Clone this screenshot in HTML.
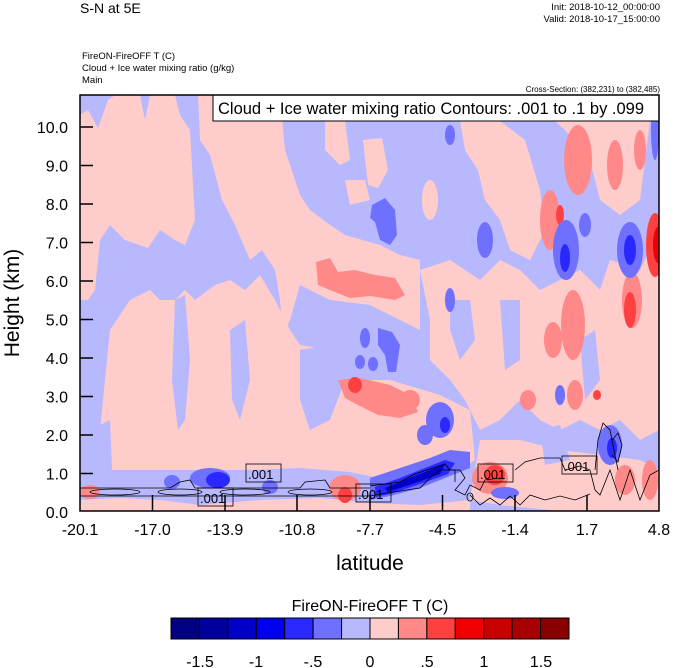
<!DOCTYPE html>
<html><head><meta charset="utf-8"><style>
body{margin:0;background:#fff;}
svg{display:block;font-family:"Liberation Sans",sans-serif;}
</style></head><body>
<svg width="674" height="668" viewBox="0 0 674 668" xmlns="http://www.w3.org/2000/svg">
<defs>
<clipPath id="pc"><rect x="80" y="95" width="579" height="416"/></clipPath>
</defs>
<text x="80" y="13" font-size="14">S-N at 5E</text>
<text x="660" y="10" font-size="9.5" text-anchor="end">Init: 2018-10-12_00:00:00</text>
<text x="660" y="22" font-size="9.5" text-anchor="end">Valid: 2018-10-17_15:00:00</text>
<text x="82" y="59" font-size="9.5">FireON-FireOFF T   (C)</text>
<text x="82" y="71" font-size="9.5">Cloud + Ice water mixing ratio   (g/kg)</text>
<text x="82" y="83" font-size="9.5">Main</text>
<text x="660" y="92" font-size="8" text-anchor="end">Cross-Section: (382,231) to (382,485)</text>

<g clip-path="url(#pc)">
<rect x="80" y="95" width="579" height="416" fill="#b8b8ff"/>
<g fill="#ffcccc">
<path d="M80 115 L88 110 L98 128 L108 100 L115 95 L140 95 L145 120 L150 95 L175 95 L180 115 L190 130 L195 220 L185 245 L175 240 L160 230 L148 248 L125 240 L110 225 L100 240 L95 290 L88 300 L80 300 Z"/>
<path d="M198 95 L215 95 L222 120 L235 95 L280 95 L285 150 L300 195 L310 210 L330 225 L345 235 L380 245 L400 255 L420 260 L420 330 L400 320 L370 305 L330 300 L300 285 L290 320 L283 335 L280 300 L275 270 L262 250 L250 260 L235 225 L222 200 L210 155 L200 140 Z"/>
<path d="M325 120 L345 120 L350 160 L340 165 L325 150 Z"/>
<path d="M363 140 L382 138 L388 170 L378 188 L368 185 Z"/>
<path d="M345 180 L365 180 L370 200 L350 205 Z"/>
<path d="M110 330 L130 300 L150 290 L160 300 L175 300 L185 290 L195 300 L215 285 L230 280 L245 290 L260 275 L275 300 L290 330 L300 345 L330 350 L340 380 L390 380 L440 395 L470 410 L475 460 L460 470 L420 475 L380 478 L350 472 L300 468 L250 470 L200 470 L150 470 L100 470 L100 430 L105 380 Z"/>
<path d="M460 121 L500 121 L525 140 L540 190 L545 230 L530 260 L510 250 L500 220 L485 200 L478 170 L465 150 Z"/>
<path d="M555 121 L650 121 L645 160 L640 200 L620 215 L600 200 L590 160 L565 130 Z"/>
<path d="M420 270 L450 260 L480 280 L500 260 L520 270 L540 290 L560 280 L580 270 L600 290 L610 260 L640 270 L659 230 L659 430 L640 440 L620 420 L600 430 L580 420 L560 430 L540 420 L520 400 L500 420 L480 430 L465 400 L450 380 L430 360 L430 320 Z"/>
<path d="M480 440 L520 440 L560 450 L600 455 L640 460 L659 470 L659 511 L560 511 L500 505 L470 500 Z"/>
<path d="M80 500 L120 498 L160 500 L200 505 L260 500 L320 498 L370 503 L420 505 L470 500 L470 511 L80 511 Z"/>
<path d="M120 420 L140 410 L150 440 L130 455 Z"/>
<ellipse cx="430" cy="200" rx="8" ry="20"/>
</g>
<g fill="#b8b8ff">
<path d="M175 300 L185 295 L190 360 L185 420 L178 430 L172 380 Z"/>
<path d="M230 330 L245 320 L250 380 L240 420 L232 400 Z"/>
<path d="M300 350 L330 345 L345 380 L330 420 L310 430 L300 400 Z"/>
<path d="M90 430 L110 420 L112 470 L90 475 Z"/>
<path d="M450 300 L470 300 L475 340 L460 360 L450 330 Z"/>
<path d="M500 300 L520 300 L520 360 L505 370 Z"/>
<path d="M580 340 L595 330 L600 380 L585 400 Z"/>
<path d="M540 430 L560 425 L570 460 L545 465 Z"/>
</g>
<g fill="#ff8888">
<path d="M316 262 L330 258 L338 272 L355 270 L375 275 L395 278 L405 295 L395 300 L370 296 L350 298 L330 290 L318 285 Z"/>
<path d="M338 380 L360 378 L390 385 L410 395 L418 412 L400 418 L378 415 L358 405 L345 398 Z"/>
<ellipse cx="550" cy="220" rx="10" ry="30"/>
<ellipse cx="578" cy="160" rx="14" ry="35"/>
<ellipse cx="615" cy="165" rx="8" ry="25"/>
<ellipse cx="640" cy="150" rx="6" ry="20"/>
<ellipse cx="553" cy="340" rx="9" ry="18"/>
<ellipse cx="573" cy="325" rx="12" ry="35"/>
<ellipse cx="632" cy="300" rx="10" ry="28"/>
<ellipse cx="575" cy="395" rx="8" ry="15"/>
<ellipse cx="410" cy="400" rx="10" ry="10"/>
<ellipse cx="90" cy="492" rx="10" ry="7"/>
<ellipse cx="345" cy="488" rx="16" ry="13"/>
<ellipse cx="490" cy="478" rx="18" ry="16"/>
<ellipse cx="625" cy="480" rx="10" ry="15"/>
<ellipse cx="650" cy="480" rx="8" ry="20"/>
<ellipse cx="528" cy="400" rx="8" ry="10"/>
</g>
<g fill="#ff4040">
<ellipse cx="655" cy="245" rx="9" ry="32"/>
<ellipse cx="630" cy="310" rx="6" ry="18"/>
<ellipse cx="355" cy="385" rx="7" ry="8"/>
<ellipse cx="495" cy="475" rx="10" ry="10"/>
<ellipse cx="345" cy="495" rx="7" ry="8"/>
<ellipse cx="560" cy="215" rx="4" ry="10"/>
<ellipse cx="597" cy="395" rx="4" ry="5"/>
</g>
<ellipse cx="658" cy="245" rx="5" ry="18" fill="#f00000"/>
<g fill="#7070ff">
<path d="M372 205 L385 198 L395 210 L397 235 L390 245 L380 240 L375 222 L370 218 Z"/>
<path d="M378 328 L392 332 L400 345 L396 372 L388 372 L385 355 L378 345 Z"/>
<ellipse cx="365" cy="338" rx="5" ry="10"/>
<ellipse cx="360" cy="362" rx="5" ry="7"/>
<ellipse cx="373" cy="364" rx="5" ry="7"/>
<ellipse cx="450" cy="135" rx="5" ry="10"/>
<ellipse cx="485" cy="240" rx="8" ry="18"/>
<ellipse cx="450" cy="300" rx="5" ry="12"/>
<ellipse cx="566" cy="250" rx="13" ry="30"/>
<ellipse cx="630" cy="250" rx="13" ry="28"/>
<ellipse cx="585" cy="225" rx="6" ry="12"/>
<ellipse cx="440" cy="420" rx="14" ry="18"/>
<ellipse cx="425" cy="435" rx="8" ry="10"/>
<ellipse cx="560" cy="395" rx="5" ry="10"/>
<ellipse cx="610" cy="445" rx="12" ry="20"/>
<ellipse cx="210" cy="478" rx="20" ry="10"/>
<ellipse cx="172" cy="482" rx="8" ry="7"/>
<ellipse cx="270" cy="487" rx="8" ry="7"/>
<path d="M370 478 L400 468 L430 458 L450 450 L470 452 L470 468 L445 478 L420 488 L390 496 L370 500 Z"/>
<ellipse cx="505" cy="493" rx="14" ry="6"/>
<ellipse cx="655" cy="130" rx="4" ry="30"/>
</g>
<g fill="#2828ff">
<path d="M375 487 L400 478 L425 468 L445 460 L455 463 L448 474 L420 484 L390 494 L376 497 Z"/>
<ellipse cx="218" cy="480" rx="12" ry="8"/>
<ellipse cx="565" cy="258" rx="5" ry="14"/>
<ellipse cx="630" cy="250" rx="6" ry="15"/>
<ellipse cx="612" cy="448" rx="5" ry="10"/>
<ellipse cx="445" cy="425" rx="5" ry="8"/>
</g>
<path d="M385 488 L410 478 L435 468 L445 464 L440 474 L412 484 L388 492 Z" fill="#0000c8"/>
</g>

<g fill="none" stroke="#000" stroke-width="0.8" clip-path="url(#pc)">
<path d="M80 488 L170 488 L180 482 L190 480 L195 488 L300 488 L305 482 L325 480 L330 488 L370 488"/>
<path d="M80 496 L370 496 L380 494 L420 488 L430 478 L440 470 L455 470 L455 482"/>
<ellipse cx="115" cy="492" rx="25" ry="3"/>
<ellipse cx="180" cy="492" rx="22" ry="3"/>
<ellipse cx="245" cy="492" rx="25" ry="3"/>
<ellipse cx="310" cy="492" rx="22" ry="3"/>
<path d="M370 486 L400 482 L415 474 L445 464 L450 470 L460 470 L465 478 L455 490 L465 495 L470 485 L480 490 L485 480 L500 478"/>
<path d="M515 470 L525 462 L540 458 L560 458 L565 470 L580 466 L590 470 L595 490 L600 495 L610 470 L620 500 L630 470 L640 500 L650 475 L659 470"/>
<path d="M595 470 L598 440 L603 423 L610 430 L615 455 L618 470"/>
<path d="M612 440 L618 433 L622 445 L618 462 L612 455"/>
<path d="M470 495 L480 505 L490 498 L500 505 L510 496 L520 505 L530 495 L545 500 L560 496 L575 500 L590 494"/>
<ellipse cx="470" cy="497" rx="3" ry="4"/>
</g>

<g font-size="13" fill="#000">
<rect x="246" y="464" width="35" height="18" fill="none" stroke="#000" stroke-width="0.8"/><text x="248" y="479">.001</text>
<rect x="198" y="488" width="35" height="18" fill="none" stroke="#000" stroke-width="0.8"/><text x="200" y="503">.001</text>
<rect x="356" y="484" width="35" height="18" fill="none" stroke="#000" stroke-width="0.8"/><text x="358" y="499">.001</text>
<rect x="478" y="464" width="35" height="18" fill="none" stroke="#000" stroke-width="0.8"/><text x="480" y="479">.001</text>
<rect x="562" y="456" width="35" height="18" fill="none" stroke="#000" stroke-width="0.8"/><text x="564" y="471">.001</text>
</g>

<rect x="213" y="95" width="446" height="26" fill="#fff" stroke="#000" stroke-width="1"/>
<text x="218" y="114" font-size="16.5">Cloud + Ice water mixing ratio Contours: .001 to .1 by .099</text>

<rect x="80" y="95" width="579" height="416" fill="none" stroke="#000" stroke-width="1.5"/>
<g stroke="#000" stroke-width="1.5">
<line x1="80" y1="127" x2="93" y2="127"/><line x1="80" y1="165.5" x2="93" y2="165.5"/>
<line x1="80" y1="204" x2="93" y2="204"/><line x1="80" y1="242.5" x2="93" y2="242.5"/>
<line x1="80" y1="281" x2="93" y2="281"/><line x1="80" y1="319.5" x2="93" y2="319.5"/>
<line x1="80" y1="358" x2="93" y2="358"/><line x1="80" y1="396.5" x2="93" y2="396.5"/>
<line x1="80" y1="435" x2="93" y2="435"/><line x1="80" y1="473.5" x2="93" y2="473.5"/>
<line x1="152.5" y1="511" x2="152.5" y2="495"/><line x1="225" y1="511" x2="225" y2="495"/>
<line x1="297" y1="511" x2="297" y2="495"/><line x1="370" y1="511" x2="370" y2="495"/>
<line x1="442.5" y1="511" x2="442.5" y2="495"/><line x1="515" y1="511" x2="515" y2="495"/>
<line x1="587" y1="511" x2="587" y2="495"/>
</g>
<g font-size="16" text-anchor="end">
<text x="68" y="133">10.0</text><text x="68" y="171.5">9.0</text><text x="68" y="210">8.0</text>
<text x="68" y="248.5">7.0</text><text x="68" y="287">6.0</text><text x="68" y="325.5">5.0</text>
<text x="68" y="364">4.0</text><text x="68" y="402.5">3.0</text><text x="68" y="441">2.0</text>
<text x="68" y="479.5">1.0</text><text x="68" y="518">0.0</text>
</g>
<g font-size="16" text-anchor="middle">
<text x="80" y="535">-20.1</text><text x="152.5" y="535">-17.0</text><text x="225" y="535">-13.9</text>
<text x="297" y="535">-10.8</text><text x="370" y="535">-7.7</text><text x="442.5" y="535">-4.5</text>
<text x="515" y="535">-1.4</text><text x="587" y="535">1.7</text><text x="659" y="535">4.8</text>
</g>
<text x="370" y="570" font-size="21" text-anchor="middle">latitude</text>
<text transform="translate(19,303) rotate(-90)" font-size="21" text-anchor="middle">Height (km)</text>

<text x="370" y="611" font-size="16" text-anchor="middle">FireON-FireOFF T  (C)</text>
<g stroke="#000" stroke-width="1">
<rect x="171" y="618" width="28.43" height="21" fill="#000080"/>
<rect x="199.43" y="618" width="28.43" height="21" fill="#00009c"/>
<rect x="227.86" y="618" width="28.43" height="21" fill="#0000c8"/>
<rect x="256.29" y="618" width="28.43" height="21" fill="#0000f0"/>
<rect x="284.71" y="618" width="28.43" height="21" fill="#2828ff"/>
<rect x="313.14" y="618" width="28.43" height="21" fill="#7070ff"/>
<rect x="341.57" y="618" width="28.43" height="21" fill="#b8b8ff"/>
<rect x="370" y="618" width="28.43" height="21" fill="#ffcccc"/>
<rect x="398.43" y="618" width="28.43" height="21" fill="#ff8888"/>
<rect x="426.86" y="618" width="28.43" height="21" fill="#ff4040"/>
<rect x="455.29" y="618" width="28.43" height="21" fill="#f00000"/>
<rect x="483.71" y="618" width="28.43" height="21" fill="#c80000"/>
<rect x="512.14" y="618" width="28.43" height="21" fill="#a80000"/>
<rect x="540.57" y="618" width="28.43" height="21" fill="#880000"/>
</g>
<g font-size="16" text-anchor="middle">
<text x="200" y="667">-1.5</text><text x="256" y="667">-1</text><text x="313" y="667">-.5</text>
<text x="370" y="667">0</text><text x="427" y="667">.5</text><text x="484" y="667">1</text><text x="541" y="667">1.5</text>
</g>
</svg>
</body></html>
